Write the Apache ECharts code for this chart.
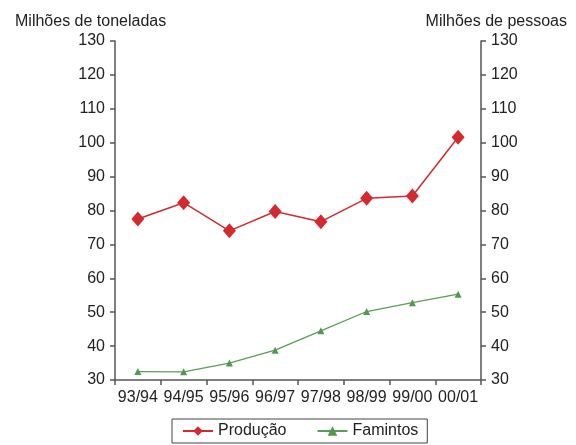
<!DOCTYPE html>
<html>
<head>
<meta charset="utf-8">
<script src="https://cdn.jsdelivr.net/npm/echarts@6/dist/echarts.min.js"></script>
<style>
html,body{margin:0;padding:0;background:#fff;}
#c{width:576px;height:445px;}
</style>
</head>
<body>
<div id="c"></div>
<script>
const categories = ['93/94','94/95','95/96','96/97','97/98','98/99','99/00','00/01'];
const producao = [77.5, 82.3, 74, 79.7, 76.7, 83.6, 84.3, 101.6];
const famintos = [32.5, 32.4, 35, 38.8, 44.5, 50.2, 52.8, 55.3];
const yTicks = [30, 40, 50, 60, 70, 80, 90, 100, 110, 120, 130];

const font = 'Liberation Sans, Arial, sans-serif';
const chart = echarts.init(document.getElementById('c'), null, {renderer: 'canvas'});

function yAxis(pos) {
  return {
    type: 'value', position: pos,
    min: yTicks[0], max: yTicks[yTicks.length - 1], interval: 10,
    axisLine: {show: true, lineStyle: {color: '#555', width: 1.5}},
    axisTick: {show: true, length: 5, lineStyle: {color: '#555', width: 1.5}},
    splitLine: {show: false},
    axisLabel: {color: '#222', fontSize: 16, fontFamily: font, margin: 10}
  };
}

chart.setOption({
  animation: false,
  backgroundColor: '#fff',
  title: [
    {text: 'Milhões de toneladas', left: 10, top: 9, textStyle: {fontSize: 16, fontWeight: 'normal', color: '#222', fontFamily: font}},
    {text: 'Milhões de pessoas', right: 4, top: 9, textStyle: {fontSize: 16, fontWeight: 'normal', color: '#222', fontFamily: font}}
  ],
  grid: {left: 115, right: 95, top: 41, bottom: 65},
  xAxis: {
    type: 'category', data: categories, boundaryGap: true,
    axisLine: {lineStyle: {color: '#555', width: 1.5}},
    axisTick: {show: true, length: 5, lineStyle: {color: '#555', width: 1.5}},
    axisLabel: {color: '#222', fontSize: 16, fontFamily: font, interval: 0, margin: 10}
  },
  yAxis: [yAxis('left'), yAxis('right')],
  legend: {
    top: 419, left: 172,
    itemGap: 30, itemWidth: 30, itemHeight: 12,
    borderColor: '#444', borderWidth: 1, padding: [4, 9, 4, 10],
    textStyle: {fontSize: 16, color: '#222', fontFamily: font},
    data: ['Produção', 'Famintos']
  },
  series: [
    {name: 'Produção', type: 'line', yAxisIndex: 0, data: producao,
     symbol: 'diamond', symbolSize: [13, 15],
     itemStyle: {color: '#d42a2f'}, lineStyle: {color: '#d42a2f', width: 1.5}},
    {name: 'Famintos', type: 'line', yAxisIndex: 1, data: famintos,
     symbol: 'triangle', symbolSize: 7,
     itemStyle: {color: '#4f9a4f'}, lineStyle: {color: '#5a9f55', width: 1.3}}
  ]
});
</script>
</body>
</html>
